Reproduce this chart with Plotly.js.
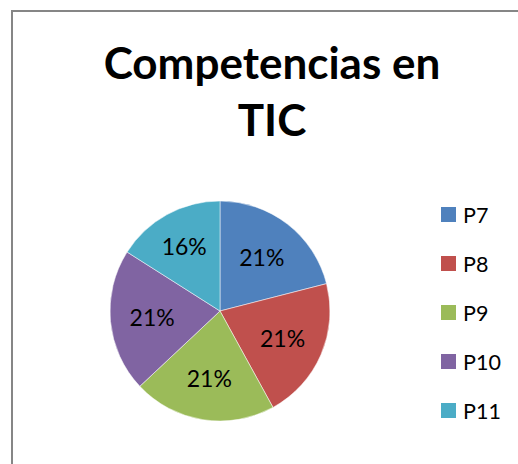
<!DOCTYPE html>
<html>
<head>
<meta charset="utf-8">
<script src="https://cdn.plot.ly/plotly-3.0.1.min.js"></script>
<style>html,body{margin:0;padding:0;background:#fff;}</style>
</head>
<body>
<div id="chart" style="width:518px;height:464px;"></div>
<script>
const categories = ["P7", "P8", "P9", "P10", "P11"];
const values = [21, 21, 21, 21, 16];
const colors = ["#4F81BD", "#C0504D", "#9BBB59", "#8064A2", "#4BACC6"];
const titleText = "Competencias en<br>TIC";

const W = 518, H = 464;
const px = x => x / W;
const py = y => 1 - y / H;

const FONT = "Lato, 'Open Sans', sans-serif";

const trace = {
  type: "pie",
  labels: categories,
  values: values,
  sort: false,
  direction: "clockwise",
  rotation: 0,
  marker: { colors: colors, line: { color: "#ffffff", width: 0.5 } },
  texttemplate: "%{percent:.0%}",
  textposition: "inside",
  insidetextorientation: "horizontal",
  textfont: { family: FONT, size: 23, color: "#000000" },
  domain: { x: [px(110), px(330)], y: [py(421), py(201)] },
  showlegend: false,
  hoverinfo: "label+percent"
};

const shapes = [{
  type: "rect", xref: "paper", yref: "paper",
  x0: px(12), x1: px(530), y0: py(11), y1: py(480),
  line: { color: "#868686", width: 2 }, fillcolor: "rgba(0,0,0,0)"
}];
const annotations = [];
const legTop = 214.5, legStep = 49;
categories.forEach((c, i) => {
  const yc = legTop + i * legStep;
  shapes.push({
    type: "rect", xref: "paper", yref: "paper",
    x0: px(441), x1: px(456), y0: py(yc + 7.5), y1: py(yc - 7.5),
    fillcolor: colors[i], line: { width: 0 }
  });
  annotations.push({
    xref: "paper", yref: "paper", x: px(461), y: py(yc),
    xanchor: "left", yanchor: "middle", showarrow: false,
    text: c, font: { family: FONT, size: 21.5, color: "#000000" }
  });
});

const layout = {
  width: W, height: H,
  margin: { l: 0, r: 0, t: 0, b: 0 },
  paper_bgcolor: "#ffffff",
  title: {
    text: titleText,
    x: px(272), xanchor: "center",
    y: py(79), yanchor: "top", yref: "container",
    font: { family: FONT, size: 44, color: "#000000", weight: "bold" }
  },
  shapes: shapes,
  annotations: annotations
};

Plotly.newPlot("chart", [trace], layout, { displayModeBar: false, staticPlot: true });
</script>
</body>
</html>
